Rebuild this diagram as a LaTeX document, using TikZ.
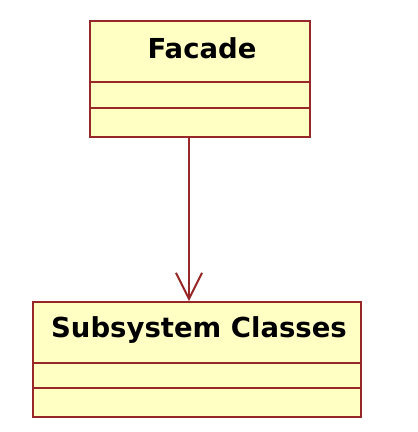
\documentclass[tikz,border=0pt]{standalone}
\usepackage{fontspec}
\setmainfont{DejaVu Sans}
\usetikzlibrary{arrows.meta}
\definecolor{umlline}{HTML}{982828}
\definecolor{umlfill}{HTML}{FFFFC4}
\tikzset{
  classbox/.style={draw=umlline, fill=umlfill, line width=2.6pt},
  divider/.style={draw=umlline, line width=2.6pt},
  classname/.style={font=\fontsize{27.5}{30}\selectfont\bfseries, text=black, anchor=base, inner sep=0pt},
  dep/.style={draw=umlline, line width=2pt, -{Straight Barb[length=26pt,width=26pt,line width=2pt]}}
}
\begin{document}
\begin{tikzpicture}[x=1pt,y=-1pt]
\useasboundingbox (0,0) rectangle (418,432);
% Facade
\draw[classbox] (90,21) rectangle (310,137);
\draw[divider] (90,82) -- (310,82);
\draw[divider] (90,108) -- (310,108);
\node[classname] (fname) at (202,58) {Facade};
\coordinate (fbot) at (189,137);
% Subsystem
\draw[classbox] (33,302) rectangle (361,417);
\draw[divider] (33,363) -- (361,363);
\draw[divider] (33,388) -- (361,388);
\node[classname] (sname) at (199,337) {Subsystem Classes};
\coordinate (stop) at (189,301);
\draw[dep] (fbot) -- (stop);
\end{tikzpicture}
\end{document}
